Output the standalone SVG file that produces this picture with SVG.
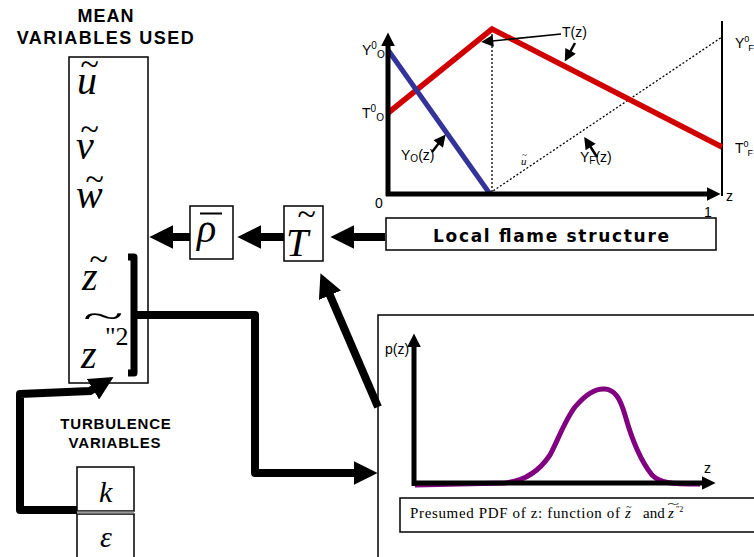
<svg xmlns="http://www.w3.org/2000/svg" width="754" height="557" viewBox="0 0 754 557">
  <style>
    .hd { font-family: "Liberation Sans", Arial, sans-serif; font-weight: bold; fill: #000; }
    .wide { font-family: "DejaVu Sans", Verdana, sans-serif; font-weight: bold; fill: #000; }
    .lbl { font-family: "Liberation Sans", Arial, sans-serif; font-size: 14px; fill: #000; }
    .math { font-family: "Liberation Serif", "Times New Roman", serif; font-style: italic; fill: #000; }
    .serif { font-family: "Liberation Serif", "Times New Roman", serif; fill: #000; }
    .tilde { font-family: "Liberation Serif", "Times New Roman", serif; font-style: italic; fill: #000; }
    .box { fill: #fff; stroke: #000; stroke-width: 1.5; }
    .thick { fill: none; stroke: #000; stroke-width: 8; stroke-linejoin: round; }
    .dot { fill: none; stroke: #000; stroke-width: 1.3; stroke-dasharray: 2 2; }
  </style>
  <defs>
    <marker id="bigHead" viewBox="0 0 10 10" refX="1" refY="5" markerWidth="24" markerHeight="24" markerUnits="userSpaceOnUse" orient="auto">
      <path d="M0,0 L10,5 L0,10 z" fill="#000"/>
    </marker>
    <marker id="axHead" viewBox="0 0 10 10" refX="1" refY="5" markerWidth="14" markerHeight="14" markerUnits="userSpaceOnUse" orient="auto">
      <path d="M0,0 L10,5 L0,10 z" fill="#000"/>
    </marker>
    <marker id="smallHead" viewBox="0 0 10 10" refX="1" refY="5" markerWidth="13" markerHeight="12" markerUnits="userSpaceOnUse" orient="auto">
      <path d="M0,0 L10,5 L0,10 z" fill="#000"/>
    </marker>
  </defs>

  <!-- mean variables column -->
  <g id="mean-vars">
    <text class="hd" x="106" y="22" font-size="18" text-anchor="middle" letter-spacing="1">MEAN</text>
    <text class="hd" x="106" y="44" font-size="18" text-anchor="middle" letter-spacing="1.5">VARIABLES USED</text>
    <rect class="box" x="69" y="57" width="79" height="326"/>
    <text class="math" x="77" y="94" font-size="40">u</text>
    <text class="tilde" x="80" y="75" font-size="34">~</text>
    <text class="math" x="76" y="159" font-size="40">v</text>
    <text class="tilde" x="80" y="140" font-size="34">~</text>
    <text class="math" x="76" y="208" font-size="40">w</text>
    <text class="tilde" x="85" y="190" font-size="34">~</text>
    <text class="math" x="82" y="290" font-size="40">z</text>
    <text class="tilde" x="89" y="270" font-size="34">~</text>
    <text class="math" x="81" y="368" font-size="40">z</text>
    <text class="tilde" transform="translate(82,327) scale(2.2,1)" x="0" y="0" font-size="34">~</text>
    <text class="serif" x="105" y="345" font-size="26">"2</text>
    <!-- bracket grouping z and its variance -->
    <path d="M128,257 H134 V373 H128" fill="none" stroke="#000" stroke-width="7" stroke-linejoin="round"/>
  </g>

  <!-- density -->
  <g id="rho">
    <rect class="box" x="190" y="206" width="43" height="53"/>
    <line x1="200" y1="213.5" x2="222" y2="213.5" stroke="#000" stroke-width="2"/>
    <text class="math" x="197" y="242" font-size="40">ρ</text>
  </g>

  <!-- mean temperature -->
  <g id="temp">
    <rect class="box" x="284" y="206" width="39" height="55"/>
    <text class="math" x="286" y="256" font-size="40">T</text>
    <text class="tilde" x="297" y="225" font-size="34">~</text>
  </g>

  <!-- local flame structure chart -->
  <g id="flame-chart">
    <line x1="722" y1="21" x2="722" y2="196" stroke="#000" stroke-width="2"/>
    <line class="dot" x1="492" y1="30" x2="492" y2="193"/>
    <line class="dot" x1="490" y1="193" x2="722" y2="37"/>
    <polyline points="388,113 492,29 722,147" fill="none" stroke="#d00000" stroke-width="5.5"/>
    <line x1="388" y1="50" x2="490" y2="194" stroke="#333399" stroke-width="5"/>
    <line x1="388" y1="196" x2="388" y2="45" stroke="#000" stroke-width="5" marker-end="url(#axHead)"/>
    <line x1="386" y1="194" x2="708" y2="194" stroke="#000" stroke-width="5" marker-end="url(#axHead)"/>
    <text class="lbl" x="362" y="55">Y<tspan font-size="10" dy="-6">0</tspan><tspan font-size="10" dy="9">O</tspan></text>
    <text class="lbl" x="362" y="118">T<tspan font-size="10" dy="-6">0</tspan><tspan font-size="10" dy="9">O</tspan></text>
    <text class="lbl" x="735" y="48">Y<tspan font-size="9" dy="-6">0</tspan><tspan font-size="9" dx="-1" dy="9">F</tspan></text>
    <text class="lbl" x="735" y="153">T<tspan font-size="9" dy="-6">0</tspan><tspan font-size="9" dx="-1" dy="9">F</tspan></text>
    <text class="lbl" x="375" y="208" font-size="12">0</text>
    <text class="lbl" x="704" y="217" font-size="12">1</text>
    <text class="lbl" x="726" y="201" font-size="13">z</text>
    <text class="lbl" x="562" y="37">T(z)</text>
    <text class="lbl" x="401" y="160">Y<tspan font-size="10" dy="2">O</tspan><tspan dy="-2">(z)</tspan></text>
    <text class="lbl" x="580" y="162">Y<tspan font-size="10" dy="2">F</tspan><tspan dy="-2">(z)</tspan></text>
    <text class="math" x="521" y="165" font-size="11">u</text>
    <text class="tilde" x="522" y="158" font-size="9">~</text>
    <!-- label leaders -->
    <line x1="561" y1="34" x2="492" y2="41" stroke="#000" stroke-width="1.5" marker-end="url(#smallHead)"/>
    <line x1="575" y1="43" x2="570" y2="52" stroke="#000" stroke-width="2.5" marker-end="url(#smallHead)"/>
    <line x1="432" y1="152" x2="439" y2="143" stroke="#000" stroke-width="2.5" marker-end="url(#smallHead)"/>
    <line x1="597" y1="157" x2="590" y2="146" stroke="#000" stroke-width="2.5" marker-end="url(#smallHead)"/>
  </g>

  <!-- local flame structure caption box -->
  <g id="local-flame">
    <rect class="box" x="386" y="218" width="330" height="32"/>
    <text class="wide" x="551" y="242" font-size="17" text-anchor="middle" textLength="236">Local flame structure</text>
  </g>

  <!-- presumed pdf panel -->
  <g id="pdf-panel">
    <rect class="box" x="378" y="315" width="390" height="260"/>
    <path d="M415,485 L505,483 C525,481 540,470 550,455 C558,440 565,420 575,407 C585,395 595,388 605,389 C615,390 620,398 625,415 C632,440 640,460 652,475 C660,483 670,484 700,484" fill="none" stroke="#800080" stroke-width="5"/>
    <line x1="414" y1="486" x2="414" y2="346" stroke="#000" stroke-width="5" marker-end="url(#axHead)"/>
    <line x1="412" y1="483" x2="703" y2="483" stroke="#000" stroke-width="5" marker-end="url(#axHead)"/>
    <text class="lbl" x="385" y="354">p(z)</text>
    <text class="lbl" x="704" y="473" font-size="15">z</text>
    <rect class="box" x="400" y="498" width="360" height="34"/>
    <text class="serif" x="410" y="518" font-size="15" textLength="210">Presumed PDF of z: function of</text>
    <text class="math" x="625" y="518" font-size="15">z</text>
    <text class="tilde" x="626" y="510" font-size="10">~</text>
    <text class="serif" x="643" y="518" font-size="15">and</text>
    <text class="math" x="668" y="518" font-size="15">z</text>
    <text class="tilde" transform="translate(667,507) scale(2.2,1)" x="0" y="0" font-size="10">~</text>
    <text class="serif" x="676" y="512" font-size="8">"2</text>
  </g>

  <!-- turbulence variables -->
  <g id="turb-vars">
    <text class="hd" x="116" y="429" font-size="15" text-anchor="middle" letter-spacing="0.8">TURBULENCE</text>
    <text class="hd" x="115" y="448" font-size="15" text-anchor="middle" letter-spacing="0.8">VARIABLES</text>
    <rect class="box" x="77" y="467" width="57" height="44"/>
    <rect class="box" x="77" y="514" width="57" height="60"/>
    <line x1="77" y1="512.5" x2="134" y2="512.5" stroke="#999" stroke-width="2"/>
    <text class="math" x="99" y="502" font-size="30">k</text>
    <text class="math" x="100" y="547" font-size="30">ε</text>
  </g>

  <!-- connectors -->
  <g id="connectors">
    <line class="thick" x1="385" y1="237" x2="352" y2="237" marker-end="url(#bigHead)"/>
    <line class="thick" x1="284" y1="237" x2="259" y2="237" marker-end="url(#bigHead)"/>
    <line class="thick" x1="190" y1="237" x2="171" y2="237" marker-end="url(#bigHead)"/>
    <line class="thick" x1="378" y1="407" x2="329" y2="293" marker-end="url(#bigHead)"/>
    <path class="thick" d="M137,315 H255 V473 H356" marker-end="url(#bigHead)"/>
    <path class="thick" d="M77,510 H20 V394 L90,391 L95,388" marker-end="url(#bigHead)"/>
  </g>
</svg>
